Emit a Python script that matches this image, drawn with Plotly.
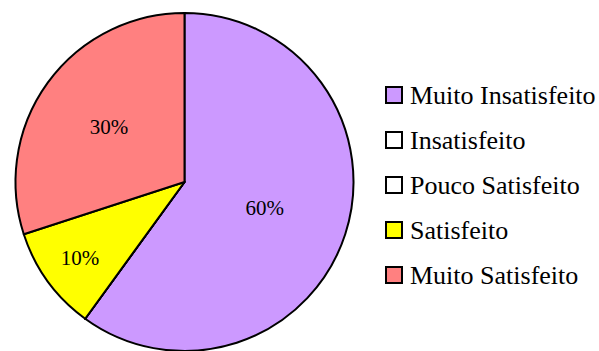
import plotly.graph_objects as go

# Survey answers and their share of responses (%)
categories = ["Muito Insatisfeito", "Insatisfeito", "Pouco Satisfeito", "Satisfeito", "Muito Satisfeito"]
shares = [60, 0, 0, 10, 30]
colors = ["#CC99FF", "#FFFFFF", "#FFFFFF", "#FFFF00", "#FF8080"]

W, H = 599, 351
FONT = "Liberation Serif, Times New Roman, serif"

fig = go.Figure()
fig.add_trace(go.Pie(
    labels=categories,
    values=shares,
    sort=False,
    direction="clockwise",
    rotation=0,
    marker=dict(colors=colors, line=dict(color="black", width=2)),
    texttemplate=["%{percent:.0%}" if v > 0 else "" for v in shares],
    textposition="inside",
    insidetextorientation="horizontal",
    textfont=dict(family=FONT, size=21, color="black"),
    domain=dict(x=[13.5 / W, 355.5 / W], y=[0, 1 - 13 / H]),
    showlegend=False,
    hoverinfo="label+percent",
))

# Legend: one boxed swatch plus label per answer
legend_x = 394      # swatch centre, px
text_x = 408        # label start, px
row0, row_gap = 95, 45
for i, (name, col) in enumerate(zip(categories, colors)):
    cy = row0 + i * row_gap
    fig.add_shape(
        type="rect", xref="paper", yref="paper",
        x0=(legend_x - 8) / W, x1=(legend_x + 8) / W,
        y0=1 - (cy + 8) / H, y1=1 - (cy - 8) / H,
        fillcolor=col, line=dict(color="black", width=2),
    )
    fig.add_annotation(
        x=text_x / W, y=1 - cy / H, xref="paper", yref="paper",
        text=name, showarrow=False, xanchor="left", yanchor="middle",
        font=dict(family=FONT, size=26, color="black"),
    )

fig.update_layout(
    width=W, height=H,
    margin=dict(l=0, r=0, t=0, b=0),
    paper_bgcolor="white",
    plot_bgcolor="white",
)

fig.write_html("out.html")
